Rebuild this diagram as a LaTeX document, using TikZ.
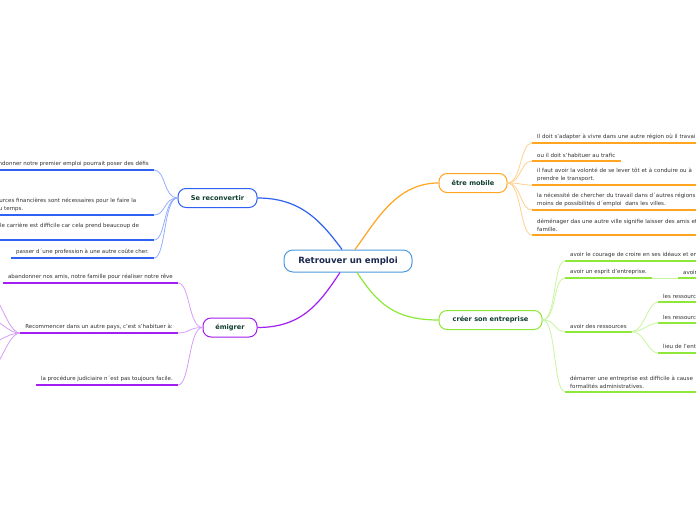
\documentclass[tikz,border=0pt]{standalone}
\usepackage{fontspec}
\setmainfont{DejaVu Sans}
\definecolor{cblue}{HTML}{2F62F2}
\definecolor{lblue}{HTML}{94ADFF}
\definecolor{corange}{HTML}{FFA51F}
\definecolor{lorange}{HTML}{FFD08E}
\definecolor{cpurple}{HTML}{A21EF2}
\definecolor{lpurple}{HTML}{D69EF8}
\definecolor{cgreen}{HTML}{8EE83A}
\definecolor{lgreen}{HTML}{C9F5A0}
\definecolor{croot}{HTML}{4A9BE0}
\definecolor{roottxt}{HTML}{1B2A4E}
\definecolor{maintxt}{HTML}{0F3D30}
\definecolor{leaftxt}{HTML}{333333}
\tikzset{
  rootbox/.style={draw=croot, line width=1pt, rounded corners=9pt, fill=white,
    minimum width=128pt, minimum height=22pt, inner sep=0pt, text=roottxt,
    font=\bfseries\fontsize{8.6}{10}\selectfont},
  mainbox/.style={line width=1pt, rounded corners=8pt, fill=white,
    minimum height=19pt, inner sep=0pt, text=maintxt,
    font=\bfseries\fontsize{6.6}{8}\selectfont},
  leaf/.style={font=\fontsize{5.5}{8}\selectfont, text=leaftxt, align=left,
    inner xsep=5pt, inner ysep=3pt},
  ul/.style={line width=2pt, draw=#1},
  br/.style={line width=0.8pt, draw=#1},
}
\begin{document}
\begin{tikzpicture}[x=1pt,y=-1pt]
\useasboundingbox (0,0) rectangle (696,520);
\fill[white] (0,0) rectangle (696,520);

% main nodes
\node[rootbox] (root) at (348,261) {Retrouver un emploi};
\node[mainbox, draw=cblue, minimum width=79pt] (sr) at (217.5,198) {Se reconvertir};
\node[mainbox, draw=corange, minimum width=68pt] (me) at (473,183) {être mobile};
\node[mainbox, draw=cpurple, minimum width=54pt] (em) at (230,327.5) {émigrer};
\node[mainbox, draw=cgreen, minimum width=103pt] (cr) at (490.5,320) {créer son entreprise};

% main connectors
\draw[line width=1.2pt, cblue] (sr.east) .. controls +(42,0) and +(-22,-30) .. ([xshift=-6pt]root.north);
\draw[line width=1.2pt, corange] (me.west) .. controls +(-42,0) and +(22,-30) .. ([xshift=7pt]root.north);
\draw[line width=1.2pt, cpurple] (em.east) .. controls +(45,0) and +(-20,30) .. ([xshift=-8pt]root.south);
\draw[line width=1.2pt, cgreen] (cr.west) .. controls +(-45,0) and +(20,30) .. ([xshift=9pt]root.south);

% Se reconvertir leaves
\node[leaf, anchor=south east] (sb1) at (154,170) {Abandonner notre premier emploi pourrait poser des défis};
\node[leaf, anchor=south east, text width=175pt] (sb2) at (154,215) {Les ressources financières sont nécessaires pour le faire la\\plupart du temps.};
\node[leaf, anchor=south east, text width=180pt] (sb3) at (154,240) {Une nouvelle carrière est difficile car cela prend beaucoup de\\temps.};
\node[leaf, anchor=south east] (sb4) at (154,258) {passer d´une profession à une autre coûte cher.};
\foreach \n in {sb1,sb2,sb3,sb4}{
  \draw[ul=cblue] (\n.south west) -- (\n.south east);
  \draw[br=lblue] (sr.west) .. controls +(-14,0) and +(12,0) .. (\n.south east);
}

% émigrer leaves
\node[leaf, anchor=south east] (ep1) at (178,283) {abandonner nos amis, notre famille pour réaliser notre rêve};
\node[leaf, anchor=south east] (ep2) at (178,333) {Recommencer dans un autre pays, c'est s'habituer à:};
\node[leaf, anchor=south east] (ep3) at (178,385) {la procédure judiciaire n´est pas toujours facile.};
\foreach \n in {ep1,ep2,ep3}{
  \draw[ul=cpurple] (\n.south west) -- (\n.south east);
  \draw[br=lpurple] (em.west) .. controls +(-14,0) and +(12,0) .. (\n.south east);
}
\coordinate (e21) at (-8,296);
\coordinate (e22) at (-8,320);
\coordinate (e23) at (-8,342);
\coordinate (e24) at (-8,368);
\foreach \n in {e21,e22,e23,e24}{
  \draw[br=lpurple] (ep2.south west) .. controls +(-12,0) and +(8,0) .. (\n);
}

% être mobile leaves
\node[leaf, anchor=south west, text width=200pt] (m1) at (532,143) {Il doit s'adapter à vivre dans une autre région où il travaille.};
\node[leaf, anchor=south west] (m2) at (532,161) {ou il doit s'habituer au trafic};
\node[leaf, anchor=south west, text width=200pt] (m3) at (532,185) {il faut avoir la volonté de se lever tôt et à conduire ou à\\prendre le transport.};
\node[leaf, anchor=south west, text width=200pt] (m4) at (532,210) {la nécessité de chercher du travail dans d´autres régions\\moins de possibilités d´emploi~~dans les villes.};
\node[leaf, anchor=south west, text width=200pt] (m5) at (532,235) {déménager das une autre ville signifie laisser des amis et\\famille.};
\foreach \n in {m1,m2,m3,m4,m5}{
  \draw[ul=corange] (\n.south west) -- (\n.south east);
  \draw[br=lorange] (me.east) .. controls +(14,0) and +(-12,0) .. (\n.south west);
}

% créer son entreprise leaves
\node[leaf, anchor=south west, text width=200pt] (c1) at (565,261) {avoir le courage de croire en ses idéaux et en};
\node[leaf, anchor=south west] (c2) at (565,278) {avoir un esprit d'entreprise.};
\node[leaf, anchor=south west] (c3) at (565,331.5) {avoir des ressources};
\node[leaf, anchor=south west, text width=200pt] (c4) at (565,391.5) {démarrer une entreprise est difficile à cause\\formalités administratives.};
\foreach \n in {c1,c2,c3,c4}{
  \draw[ul=cgreen] (\n.south west) -- (\n.south east);
  \draw[br=lgreen] (cr.east) .. controls +(14,0) and +(-12,0) .. (\n.south west);
}
\node[leaf, anchor=south west, text width=200pt] (c21) at (678,278) {avoir};
\draw[ul=cgreen] (c21.south west) -- (c21.south east);
\draw[br=lgreen] (c2.south east) -- (c21.south west);

\node[leaf, anchor=south west, text width=200pt] (c31) at (658,302) {les ressources financières};
\node[leaf, anchor=south west, text width=200pt] (c32) at (658,323) {les ressources humaines};
\node[leaf, anchor=south west, text width=200pt] (c33) at (658,353) {lieu de l'entreprise};
\foreach \n in {c31,c32,c33}{
  \draw[ul=cgreen] (\n.south west) -- (\n.south east);
  \draw[br=lgreen] (c3.south east) .. controls +(12,0) and +(-10,0) .. (\n.south west);
}
\end{tikzpicture}
\end{document}
